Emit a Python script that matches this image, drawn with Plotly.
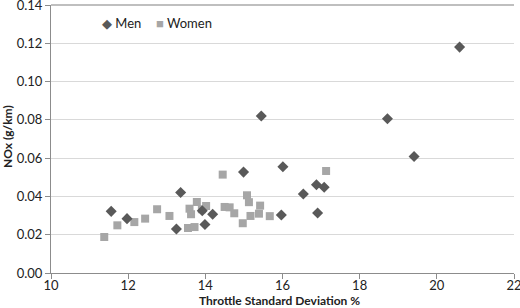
import plotly.graph_objects as go

men_x = [11.56, 11.97, 13.25, 13.36, 13.92, 13.99, 14.19, 14.99, 15.45, 15.97,
         16.01, 16.54, 16.88, 16.91, 17.08, 18.72, 19.41, 20.59]
men_y = [0.0322, 0.0284, 0.0230, 0.0421, 0.0325, 0.0253, 0.0307, 0.0527, 0.0820, 0.0303,
         0.0555, 0.0413, 0.0461, 0.0313, 0.0448, 0.0806, 0.0609, 0.1180]

women_x = [11.38, 11.72, 12.16, 12.44, 12.75, 13.07, 13.55, 13.59, 13.63, 13.72,
           13.78, 13.91, 14.02, 14.45, 14.50, 14.63, 14.75, 14.97, 15.08, 15.13,
           15.17, 15.39, 15.42, 15.67, 17.13]
women_y = [0.0188, 0.0249, 0.0266, 0.0284, 0.0333, 0.0298, 0.0235, 0.0336, 0.0307, 0.0240,
           0.0371, 0.0333, 0.0350, 0.0514, 0.0345, 0.0343, 0.0312, 0.0260, 0.0406, 0.0370,
           0.0298, 0.0310, 0.0352, 0.0297, 0.0533]

x_ticks = [10, 12, 14, 16, 18, 20, 22]
y_ticks = [0.00, 0.02, 0.04, 0.06, 0.08, 0.10, 0.12, 0.14]

FONT = "Lato, 'Open Sans', sans-serif"
MEN_C = "#595959"
WOMEN_C = "#a6a6a6"
TXT = "#222222"

L, R, T, B = 51, 6, 5, 35
W, H = 520, 308
PW, PH = W - L - R, H - T - B

def px_x(p):
    return (p - L) / PW

def px_y(p):
    return (H - B - p) / PH

fig = go.Figure()
fig.add_trace(go.Scatter(
    x=women_x, y=women_y, mode="markers", name="Women", showlegend=False,
    marker=dict(symbol="square", size=8, color=WOMEN_C, line=dict(width=0)),
))
fig.add_trace(go.Scatter(
    x=men_x, y=men_y, mode="markers", name="Men", showlegend=False,
    marker=dict(symbol="diamond", size=8.5, color=MEN_C, line=dict(width=0)),
))

fig.update_layout(
    width=W, height=H,
    margin=dict(l=L, r=R, t=T, b=B),
    paper_bgcolor="white", plot_bgcolor="white",
    font=dict(family=FONT, size=13, color=TXT),
    showlegend=False,
    xaxis=dict(
        range=[10, 22], tickvals=x_ticks, ticktext=[str(v) for v in x_ticks],
        showgrid=False, zeroline=False, automargin=False,
        showline=True, linecolor="#8c8c8c", linewidth=1,
        ticks="outside", ticklen=5, tickcolor="#8c8c8c",
        ticklabeloverflow="allow", ticklabelstandoff=-5,
        tickfont=dict(family=FONT, size=13, color=TXT),
    ),
    yaxis=dict(
        range=[0, 0.14], tickvals=y_ticks, ticktext=[f"{v:.2f}" for v in y_ticks],
        showgrid=True, gridcolor="#d9d9d9", gridwidth=1, zeroline=False, automargin=False,
        showline=True, linecolor="#8c8c8c", linewidth=1,
        ticks="outside", ticklen=5, tickcolor="#8c8c8c",
        ticklabeloverflow="allow",
        tickfont=dict(family=FONT, size=13, color=TXT),
    ),
)

fig.add_shape(type="line", xref="paper", yref="paper", x0=0, x1=1, y0=1, y1=1,
              line=dict(color="#bfbfbf", width=2))

# axis titles
fig.add_annotation(xref="paper", yref="paper", x=px_x(279), y=px_y(300),
                   text="<b>Throttle Standard Deviation %</b>", showarrow=False,
                   xanchor="center", yanchor="middle",
                   font=dict(family=FONT, size=12, color=TXT))
fig.add_annotation(xref="paper", yref="paper", x=px_x(7), y=px_y(137),
                   text="<b>NOx (g/km)</b>", showarrow=False, textangle=-90,
                   xanchor="center", yanchor="middle",
                   font=dict(family=FONT, size=12, color=TXT))

# legend (drawn as text with coloured symbols)
fig.add_annotation(xref="paper", yref="paper", x=px_x(100), y=px_y(23),
                   text=f"<span style='color:{MEN_C}'>◆</span> Men", showarrow=False,
                   xanchor="left", yanchor="middle",
                   font=dict(family=FONT, size=13, color=TXT))
fig.add_annotation(xref="paper", yref="paper", x=px_x(154), y=px_y(23),
                   text=f"<span style='color:{WOMEN_C}'>■</span> Women", showarrow=False,
                   xanchor="left", yanchor="middle",
                   font=dict(family=FONT, size=13, color=TXT))

fig.write_html("out.html", config={"displayModeBar": False},
               post_script="document.body.style.margin='0';document.body.style.overflow='hidden';")
